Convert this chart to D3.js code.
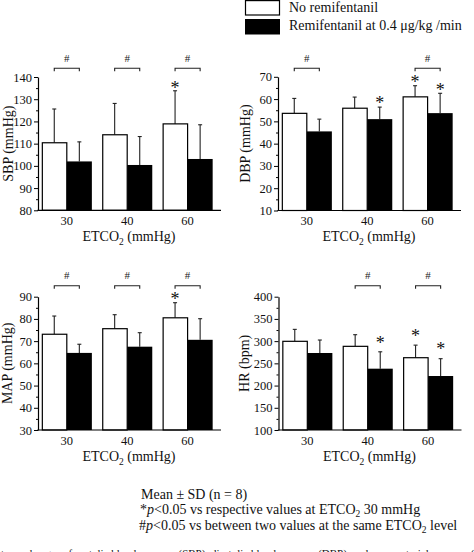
<!DOCTYPE html>
<html><head><meta charset="utf-8">
<script src="https://cdn.jsdelivr.net/npm/d3@7"></script>
<style>body{margin:0;background:#fff} svg{display:block}</style>
</head><body>
<script>
// ---- data ----
const categories = ["30", "40", "60"];
const seriesNames = ["No remifentanil", "Remifentanil at 0.4 \u03bcg/kg /min"];

const sbpNo = [110.4, 114.0, 118.9];
const sbpNoSD = [15.2, 14.1, 14.9];
const sbpRemi = [102.0, 100.4, 103.1];
const sbpRemiSD = [8.8, 12.8, 15.4];
const sbpTicks = [80, 90, 100, 110, 120, 130, 140];
const sbpStarNo = [0, 0, 1];
const sbpStarRemi = [0, 0, 0];
const sbpHash = [1, 1, 1];

const dbpNo = [53.6, 55.9, 61.0];
const dbpNoSD = [6.7, 5.0, 5.0];
const dbpRemi = [45.5, 51.0, 53.7];
const dbpRemiSD = [5.5, 5.4, 8.9];
const dbpTicks = [10, 20, 30, 40, 50, 60, 70];
const dbpStarNo = [0, 0, 1];
const dbpStarRemi = [0, 1, 1];
const dbpHash = [1, 0, 1];

const mapNo = [73.1, 75.6, 80.5];
const mapNoSD = [8.2, 6.3, 6.8];
const mapRemi = [64.7, 67.5, 70.6];
const mapRemiSD = [3.9, 6.3, 9.5];
const mapTicks = [30, 40, 50, 60, 70, 80, 90];
const mapStarNo = [0, 0, 1];
const mapStarRemi = [0, 0, 0];
const mapHash = [1, 1, 1];

const hrNo = [299.6, 288.3, 262.7];
const hrNoSD = [26.9, 26.2, 28.3];
const hrRemi = [273.3, 238.0, 221.5];
const hrRemiSD = [29.2, 38.0, 39.0];
const hrTicks = [100, 150, 200, 250, 300, 350, 400];
const hrStarNo = [0, 0, 1];
const hrStarRemi = [0, 1, 1];
const hrHash = [0, 1, 1];

const notes = ["Mean \u00b1 SD (n = 8)"];

// ---- drawing ----
const W = 474, H = 552;
const FONT = "'Liberation Serif','Times New Roman',Times,serif";
const svg = d3.select("body").append("svg").attr("width", W).attr("height", H)
  .style("font-family", FONT);

const panels = [
  {title: "SBP", no: sbpNo, noSD: sbpNoSD, remi: sbpRemi, remiSD: sbpRemiSD, ticks: sbpTicks,
   starNo: sbpStarNo, starRemi: sbpStarRemi, hash: sbpHash,
   ax: 38, yb: 210.3, yt: 77, titleX: 12.5, starGap: 6, bracketY: 68.3},
  {title: "DBP", no: dbpNo, noSD: dbpNoSD, remi: dbpRemi, remiSD: dbpRemiSD, ticks: dbpTicks,
   starNo: dbpStarNo, starRemi: dbpStarRemi, hash: dbpHash,
   ax: 278, yb: 210.5, yt: 76.8, titleX: 249.5, starGap: 6.5, bracketY: 68.3},
  {title: "MAP", no: mapNo, noSD: mapNoSD, remi: mapRemi, remiSD: mapRemiSD, ticks: mapTicks,
   starNo: mapStarNo, starRemi: mapStarRemi, hash: mapHash,
   ax: 38, yb: 430, yt: 296.7, titleX: 12, starGap: 6.5, bracketY: 285.7},
  {title: "HR", no: hrNo, noSD: hrNoSD, remi: hrRemi, remiSD: hrRemiSD, ticks: hrTicks,
   starNo: hrStarNo, starRemi: hrStarRemi, hash: hrHash,
   ax: 278.5, yb: 430, yt: 296.7, titleX: 249, starGap: 12, bracketY: 285.7, unit: "bpm"}
];

function etcoLabel(sel) {
  sel.append("tspan").text("ETCO");
  sel.append("tspan").attr("dy", 4).attr("font-size", 9.5).text("2");
  sel.append("tspan").attr("dy", -4).text(" (mmHg)");
}

panels.forEach(p => {
  const g = svg.append("g");
  const x = d3.scaleBand().domain(categories)
    .range([p.ax - 1.4, p.ax + 179.8]).paddingInner(0.17).paddingOuter(0.085);
  const sub = d3.scaleBand().domain([0, 1]).range([0, x.bandwidth()]);
  const lo = p.ticks[0], hi = p.ticks[p.ticks.length - 1];
  const y = d3.scaleLinear().domain([lo, hi]).range([p.yb, p.yt]);

  const series = [
    {k: 0, vals: p.no, sd: p.noSD, star: p.starNo, fill: "#fff"},
    {k: 1, vals: p.remi, sd: p.remiSD, star: p.starRemi, fill: "#000"}
  ];

  series.forEach(s => {
    const data = categories.map((c, i) => ({c, v: s.vals[i], sd: s.sd[i], star: s.star[i]}));
    const cx = d => x(d.c) + sub(s.k) + sub.bandwidth() / 2;
    g.selectAll(null).data(data).enter().append("line")
      .attr("x1", cx).attr("x2", cx)
      .attr("y1", d => y(d.v)).attr("y2", d => y(d.v + d.sd))
      .attr("stroke", "#222").attr("stroke-width", 1.1);
    g.selectAll(null).data(data).enter().append("line")
      .attr("x1", d => cx(d) - 2).attr("x2", d => cx(d) + 2)
      .attr("y1", d => y(d.v + d.sd)).attr("y2", d => y(d.v + d.sd))
      .attr("stroke", "#222").attr("stroke-width", 1.1);
    g.selectAll(null).data(data).enter().append("rect")
      .attr("x", d => x(d.c) + sub(s.k) + (s.k === 0 ? 0.6 : 0))
      .attr("y", d => y(d.v))
      .attr("width", sub.bandwidth() - (s.k === 0 ? 0.6 : 0))
      .attr("height", d => y(lo) - y(d.v))
      .attr("fill", s.fill)
      .attr("stroke", "#000").attr("stroke-width", s.k === 0 ? 1.2 : 0);
    g.selectAll(null).data(data.filter(d => d.star)).enter().append("text")
      .attr("x", cx)
      .attr("y", d => y(d.v + d.sd) - p.starGap + 8.8)
      .attr("text-anchor", "middle").attr("font-size", 18).attr("fill", "#111")
      .text("*");
  });

  const hashData = categories.map((c, i) => ({c, h: p.hash[i]})).filter(d => d.h);
  hashData.forEach(d => {
    const xa = x(d.c) + sub(0) + sub.bandwidth() / 2;
    const xb = x(d.c) + sub(1) + sub.bandwidth() / 2;
    const by = p.bracketY;
    g.append("path")
      .attr("d", `M${xa},${by + 3}V${by}H${xb}V${by + 3}`)
      .attr("fill", "none").attr("stroke", "#222").attr("stroke-width", 1.1);
    g.append("text").attr("x", (xa + xb) / 2).attr("y", by - 6.5)
      .attr("text-anchor", "middle").attr("font-size", 11).attr("fill", "#222").text("#");
  });

  const yAx = g.append("g").attr("transform", `translate(${p.ax},0)`)
    .call(d3.axisLeft(y).tickValues(p.ticks).tickSize(4).tickSizeOuter(0).tickPadding(2));
  yAx.selectAll("text").attr("font-size", 12.5).attr("font-family", FONT).attr("fill", "#111");
  yAx.select(".domain").attr("stroke", "#000").attr("stroke-width", 1.2);
  yAx.selectAll(".tick line").attr("stroke-width", 1);
  const step = p.ticks[1] - p.ticks[0];
  const minor = p.ticks.slice(0, -1).map(t => t + step / 2);
  const yMin = g.append("g").attr("transform", `translate(${p.ax},0)`)
    .call(d3.axisLeft(y).tickValues(minor).tickSize(2).tickFormat(""));
  yMin.select(".domain").remove();

  const xAx = g.append("g").attr("transform", `translate(0,${p.yb})`)
    .call(d3.axisBottom(x).tickSize(0).tickPadding(6));
  xAx.select(".domain").remove();
  xAx.selectAll("text").attr("font-size", 12.5).attr("font-family", FONT).attr("fill", "#111");
  g.append("line").attr("x1", p.ax - 0.6).attr("x2", p.ax + 183)
    .attr("y1", p.yb).attr("y2", p.yb).attr("stroke", "#000").attr("stroke-width", 1.2);

  const xt = g.append("text").attr("x", p.ax + 91).attr("y", p.yb + 30.5)
    .attr("text-anchor", "middle").attr("font-size", 14).attr("fill", "#111");
  etcoLabel(xt);
  g.append("text")
    .attr("transform", `translate(${p.titleX},${(p.yb + p.yt) / 2}) rotate(-90)`)
    .attr("text-anchor", "middle").attr("font-size", 14).attr("fill", "#111")
    .text(`${p.title} (${p.unit || "mmHg"})`);
});

// legend
const leg = svg.append("g");
leg.append("rect").attr("x", 245.5).attr("y", 0.6).attr("width", 34).attr("height", 14.4)
  .attr("fill", "#fff").attr("stroke", "#000").attr("stroke-width", 1.2);
leg.append("rect").attr("x", 245).attr("y", 19).attr("width", 35).attr("height", 15.5).attr("fill", "#000");
leg.append("text").attr("x", 289).attr("y", 11.5).attr("font-size", 14).attr("fill", "#111").text(seriesNames[0]);
leg.append("text").attr("x", 289).attr("y", 29.5).attr("font-size", 14).attr("fill", "#111").text(seriesNames[1]);

// notes
const nt = svg.append("g").attr("font-size", 14).attr("fill", "#111");
nt.append("text").attr("x", 141).attr("y", 498.5).text(notes[0]);
const n2 = nt.append("text").attr("x", 140).attr("y", 514);
n2.append("tspan").text("*");
n2.append("tspan").attr("font-style", "italic").text("p");
n2.append("tspan").text("<0.05 vs respective values at ETCO");
n2.append("tspan").attr("dy", 3).attr("font-size", 9.5).text("2");
n2.append("tspan").attr("dy", -3).text(" 30 mmHg");
const n3 = nt.append("text").attr("x", 139).attr("y", 529.5);
n3.append("tspan").text("#");
n3.append("tspan").attr("font-style", "italic").text("p");
n3.append("tspan").text("<0.05 vs between two values at the same ETCO");
n3.append("tspan").attr("dy", 3).attr("font-size", 9.5).text("2");
n3.append("tspan").attr("dy", -3).text(" level");
// caption line cut off by the bottom edge, as in the reference
svg.append("text").attr("x", 1).attr("y", 557).attr("font-size", 11).attr("fill", "#111")
  .text("ts on changes of systolic blood pressure (SBP), diastolic blood pressure (DBP), and mean arterial pressure (MAP)");
</script>
</body></html>
